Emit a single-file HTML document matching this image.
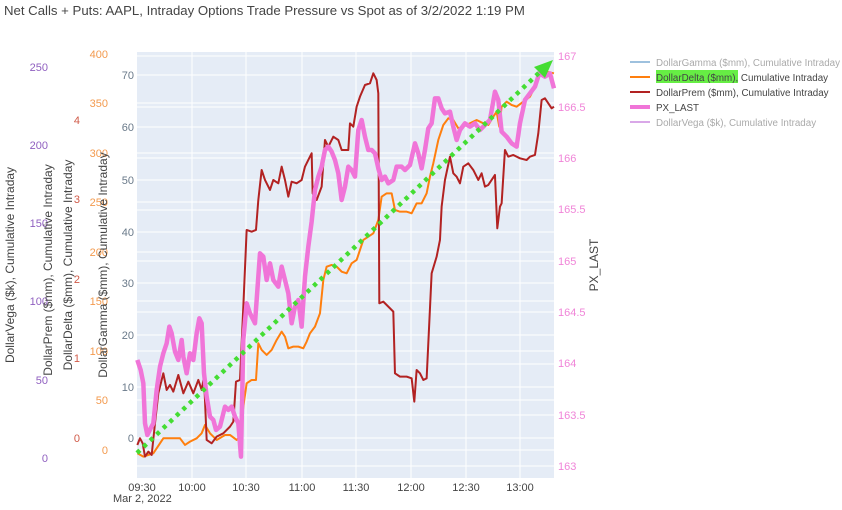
<!DOCTYPE html>
<html><head><meta charset="utf-8"><style>
body{margin:0;background:#fff;width:842px;height:505px;overflow:hidden;font-family:"Liberation Sans",sans-serif}
</style></head><body>
<svg width="842" height="505" xmlns="http://www.w3.org/2000/svg" font-family="Liberation Sans, sans-serif">
<text x="4" y="15" font-size="13.2" fill="#444">Net Calls + Puts: AAPL, Intraday Options Trade Pressure vs Spot as of 3/2/2022 1:19 PM</text>
<rect x="137" y="52" width="417" height="426" fill="#e5ecf6"/>
<g stroke="#fff" stroke-width="1">
<line x1="137" x2="554" y1="438" y2="438"/><line x1="137" x2="554" y1="387" y2="387"/><line x1="137" x2="554" y1="335" y2="335"/><line x1="137" x2="554" y1="283" y2="283"/><line x1="137" x2="554" y1="232" y2="232"/><line x1="137" x2="554" y1="180" y2="180"/><line x1="137" x2="554" y1="127" y2="127"/><line x1="137" x2="554" y1="75" y2="75"/>
<line x1="137" x2="554" y1="466" y2="466"/><line x1="137" x2="554" y1="415" y2="415"/><line x1="137" x2="554" y1="364" y2="364"/><line x1="137" x2="554" y1="312" y2="312"/><line x1="137" x2="554" y1="261" y2="261"/><line x1="137" x2="554" y1="210" y2="210"/><line x1="137" x2="554" y1="158" y2="158"/><line x1="137" x2="554" y1="107" y2="107"/><line x1="137" x2="554" y1="56" y2="56"/>
<line x1="137" x2="554" y1="450" y2="450"/><line x1="137" x2="554" y1="400" y2="400"/><line x1="137" x2="554" y1="351" y2="351"/><line x1="137" x2="554" y1="301" y2="301"/><line x1="137" x2="554" y1="252" y2="252"/><line x1="137" x2="554" y1="202" y2="202"/><line x1="137" x2="554" y1="153" y2="153"/><line x1="137" x2="554" y1="103" y2="103"/>
<line y1="52" y2="478" x1="192" x2="192"/><line y1="52" y2="478" x1="246" x2="246"/><line y1="52" y2="478" x1="302" x2="302"/><line y1="52" y2="478" x1="356" x2="356"/><line y1="52" y2="478" x1="411" x2="411"/><line y1="52" y2="478" x1="466" x2="466"/><line y1="52" y2="478" x1="520" x2="520"/>
</g>
<g transform="translate(130,40) scale(0.3333)" fill="none" stroke-linejoin="round">
<polyline stroke="#ff7f0e" stroke-width="2" vector-effect="non-scaling-stroke" points="22,1240 40,1250 70,1240 90,1210 100,1195 130,1195 150,1195 165,1215 180,1205 200,1195 215,1180 225,1155 240,1180 260,1200 285,1185 300,1185 320,1200 330,1190 340,1100 350,1030 365,1020 378,1020 385,910 395,930 410,945 425,930 440,900 455,875 465,890 475,925 490,920 505,920 520,925 530,905 540,880 555,860 570,820 580,720 590,680 605,675 620,680 635,695 650,700 665,670 680,660 690,630 700,600 715,590 730,580 745,540 755,470 770,460 785,460 795,510 810,515 830,515 845,520 860,490 875,490 890,460 900,410 910,370 925,300 940,255 955,235 970,240 985,265 1000,260 1020,250 1040,240 1060,250 1075,255 1090,230 1100,215 1108,260 1115,200 1130,185 1145,195 1160,200 1180,185 1200,170 1215,140 1230,100 1250,95 1272,100"/>
<polyline stroke="#b22222" stroke-width="2" vector-effect="non-scaling-stroke" points="22,1215 30,1195 38,1210 45,1250 55,1235 65,1245 75,1150 85,1060 100,1000 110,1050 120,1035 130,1055 145,1005 160,1060 175,1025 190,1060 205,1020 215,1050 222,1010 230,1200 245,1210 260,1190 280,1180 300,1160 310,1145 318,1025 330,1020 340,800 350,570 365,575 378,570 385,480 395,390 405,420 420,450 430,420 445,430 455,380 465,420 475,470 485,425 500,430 515,420 525,380 535,360 545,340 548,460 560,480 575,440 585,300 595,320 610,290 625,300 635,330 655,330 660,250 670,260 680,200 690,170 705,135 720,130 730,100 740,120 745,160 748,790 760,785 775,800 790,815 795,1000 810,1010 830,1010 845,1015 853,1085 860,990 870,1000 880,1020 890,1015 905,700 920,650 930,600 935,500 945,420 960,350 970,400 980,410 990,430 1000,380 1015,370 1030,390 1045,420 1055,400 1065,440 1075,435 1085,420 1095,405 1102,565 1110,500 1115,490 1125,330 1135,350 1150,345 1170,355 1190,360 1200,350 1215,345 1225,280 1235,180 1245,175 1255,190 1265,205 1272,200"/>
<polyline stroke="#f075d8" stroke-width="4.5" vector-effect="non-scaling-stroke" points="22,960 32,990 40,1030 45,1150 52,1185 62,1165 70,1150 80,1050 90,980 100,940 110,910 118,860 125,880 135,935 145,960 155,900 160,950 170,1000 180,940 190,960 200,880 208,835 215,850 222,1000 230,1070 240,1130 250,1140 258,1170 270,1160 285,1100 295,1110 305,1100 315,1130 325,1150 333,1250 340,900 350,790 360,820 375,850 390,640 400,650 410,720 420,670 430,720 445,740 455,680 465,720 475,760 485,850 495,800 505,780 515,860 525,710 535,620 545,545 555,450 565,410 575,380 585,330 595,320 605,335 615,360 625,400 635,480 645,440 655,380 665,390 675,410 685,270 695,240 705,290 715,330 725,330 735,340 745,385 755,420 765,410 775,430 790,420 800,380 815,380 825,390 840,375 855,310 865,340 875,385 885,330 895,265 905,250 915,175 925,175 935,205 945,220 960,215 970,260 980,300 990,270 1005,250 1020,260 1035,250 1050,270 1065,255 1080,240 1095,155 1105,180 1115,275 1130,290 1145,310 1160,320 1170,250 1185,180 1200,160 1215,140 1228,100 1245,110 1260,100 1272,145"/>
</g>
<line x1="137" y1="453" x2="542" y2="70" stroke="#44dd33" stroke-width="4.5" stroke-dasharray="4,5"/>
<polygon points="553,60 534,67 545,78" fill="#44dd33"/>
<g font-size="11">
<g fill="#6a7a8a" text-anchor="end"><text x="134" y="442">0</text><text x="134" y="391">10</text><text x="134" y="339">20</text><text x="134" y="287">30</text><text x="134" y="236">40</text><text x="134" y="184">50</text><text x="134" y="131">60</text><text x="134" y="79">70</text></g>
<g fill="#f39a4e" text-anchor="end"><text x="108" y="454">0</text><text x="108" y="404">50</text><text x="108" y="355">100</text><text x="108" y="305">150</text><text x="108" y="256">200</text><text x="108" y="206">250</text><text x="108" y="157">300</text><text x="108" y="107">350</text><text x="108" y="58">400</text></g>
<g fill="#d05a48" text-anchor="end"><text x="80" y="442">0</text><text x="80" y="362">1</text><text x="80" y="283">2</text><text x="80" y="203">3</text><text x="80" y="124">4</text></g>
<g fill="#9060c0" text-anchor="end"><text x="48" y="462">0</text><text x="48" y="384">50</text><text x="48" y="305">100</text><text x="48" y="227">150</text><text x="48" y="149">200</text><text x="48" y="71">250</text></g>
<g fill="#f085d8"><text x="558" y="470">163</text><text x="558" y="419">163.5</text><text x="558" y="367">164</text><text x="558" y="316">164.5</text><text x="558" y="265">165</text><text x="558" y="213">165.5</text><text x="558" y="162">166</text><text x="558" y="111">166.5</text><text x="558" y="60">167</text></g>
<g fill="#444" text-anchor="middle"><text x="142" y="491">09:30</text><text x="192" y="491">10:00</text><text x="246" y="491">10:30</text><text x="302" y="491">11:00</text><text x="356" y="491">11:30</text><text x="411" y="491">12:00</text><text x="466" y="491">12:30</text><text x="520" y="491">13:00</text></g>
<text x="113" y="502" fill="#444">Mar 2, 2022</text>
<g fill="#444" font-size="12" text-anchor="middle">
<text transform="translate(14,265) rotate(-90)">DollarVega ($k), Cumulative Intraday</text>
<text transform="translate(52,270) rotate(-90)">DollarPrem ($mm), Cumulative Intraday</text>
<text transform="translate(72,265) rotate(-90)">DollarDelta ($mm), Cumulative Intraday</text>
<text transform="translate(107,265) rotate(-90)">DollarGamma ($mm), Cumulative Intraday</text>
<text transform="translate(598,265) rotate(-90)">PX_LAST</text>
</g>
<g font-size="9.8">
<line x1="630" x2="650" y1="62" y2="62" stroke="#9ec1de" stroke-width="2"/><text x="656" y="66" fill="#aaa">DollarGamma ($mm), Cumulative Intraday</text>
<line x1="630" x2="650" y1="77" y2="77" stroke="#ff7f0e" stroke-width="2"/><rect x="656" y="70" width="82" height="13" fill="#66ee44"/><text x="656" y="81" fill="#444">DollarDelta ($mm), Cumulative Intraday</text>
<line x1="630" x2="650" y1="92" y2="92" stroke="#b22222" stroke-width="2"/><text x="656" y="96" fill="#444">DollarPrem ($mm), Cumulative Intraday</text>
<line x1="630" x2="650" y1="107" y2="107" stroke="#f075d8" stroke-width="4"/><text x="656" y="111" fill="#444">PX_LAST</text>
<line x1="630" x2="650" y1="122" y2="122" stroke="#d9a8e8" stroke-width="2"/><text x="656" y="126" fill="#aaa">DollarVega ($k), Cumulative Intraday</text>
</g>
</g>
</svg>
</body></html>
